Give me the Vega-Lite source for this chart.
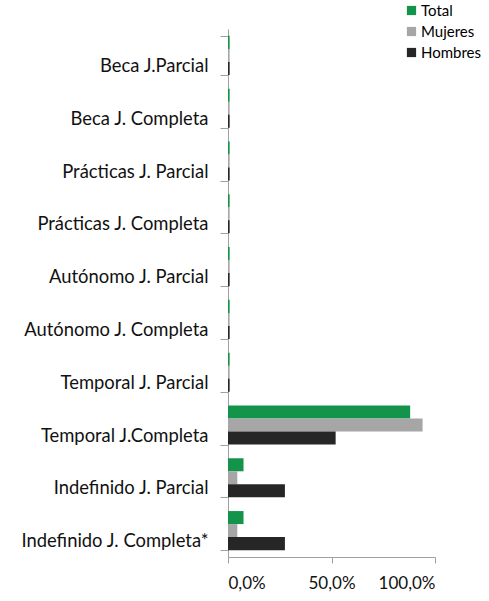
{
  "$schema": "https://vega.github.io/schema/vega-lite/v6.json",
  "width": 207,
  "height": 528,
  "autosize": {"type": "none"},
  "padding": {"left": 228, "top": 29, "right": 54, "bottom": 44},
  "background": "white",
  "config": {
    "font": "Lato",
    "view": {"stroke": null},
    "axis": {"grid": false, "domainColor": "#a0a0a0", "tickColor": "#a0a0a0", "labelColor": "#111111", "labelFontSize": 17}
  },
  "data": {
    "values": [
      {"cat": "Beca J.Parcial", "serie": "Total", "v": 0.008},
      {"cat": "Beca J.Parcial", "serie": "Mujeres", "v": 0.008},
      {"cat": "Beca J.Parcial", "serie": "Hombres", "v": 0.008},
      {"cat": "Beca J. Completa", "serie": "Total", "v": 0.008},
      {"cat": "Beca J. Completa", "serie": "Mujeres", "v": 0.008},
      {"cat": "Beca J. Completa", "serie": "Hombres", "v": 0.008},
      {"cat": "Prácticas J. Parcial", "serie": "Total", "v": 0.008},
      {"cat": "Prácticas J. Parcial", "serie": "Mujeres", "v": 0.008},
      {"cat": "Prácticas J. Parcial", "serie": "Hombres", "v": 0.008},
      {"cat": "Prácticas J. Completa", "serie": "Total", "v": 0.008},
      {"cat": "Prácticas J. Completa", "serie": "Mujeres", "v": 0.008},
      {"cat": "Prácticas J. Completa", "serie": "Hombres", "v": 0.008},
      {"cat": "Autónomo J. Parcial", "serie": "Total", "v": 0.008},
      {"cat": "Autónomo J. Parcial", "serie": "Mujeres", "v": 0.008},
      {"cat": "Autónomo J. Parcial", "serie": "Hombres", "v": 0.008},
      {"cat": "Autónomo J. Completa", "serie": "Total", "v": 0.008},
      {"cat": "Autónomo J. Completa", "serie": "Mujeres", "v": 0.008},
      {"cat": "Autónomo J. Completa", "serie": "Hombres", "v": 0.008},
      {"cat": "Temporal J. Parcial", "serie": "Total", "v": 0.008},
      {"cat": "Temporal J. Parcial", "serie": "Mujeres", "v": 0.008},
      {"cat": "Temporal J. Parcial", "serie": "Hombres", "v": 0.008},
      {"cat": "Temporal J.Completa", "serie": "Total", "v": 0.88},
      {"cat": "Temporal J.Completa", "serie": "Mujeres", "v": 0.94},
      {"cat": "Temporal J.Completa", "serie": "Hombres", "v": 0.52},
      {"cat": "Indefinido J. Parcial", "serie": "Total", "v": 0.075},
      {"cat": "Indefinido J. Parcial", "serie": "Mujeres", "v": 0.045},
      {"cat": "Indefinido J. Parcial", "serie": "Hombres", "v": 0.275},
      {"cat": "Indefinido J. Completa*", "serie": "Total", "v": 0.075},
      {"cat": "Indefinido J. Completa*", "serie": "Mujeres", "v": 0.045},
      {"cat": "Indefinido J. Completa*", "serie": "Hombres", "v": 0.275}
    ]
  },
  "mark": {"type": "bar", "stroke": null},
  "encoding": {
    "y": {
      "field": "cat", "type": "nominal", "sort": null,
      "scale": {"paddingInner": 0.26, "paddingOuter": 0.13},
      "axis": {"title": null, "tickSize": 8, "labelPadding": 12, "tickBand": "extent", "labelFontSize": 18.4, "labelLimit": 0, "labelOffset": 10}
    },
    "yOffset": {"field": "serie", "type": "nominal", "sort": ["Total", "Mujeres", "Hombres"]},
    "x": {
      "field": "v", "type": "quantitative",
      "scale": {"domain": [0, 1], "nice": false},
      "axis": {"title": null, "values": [0, 0.5, 1], "tickSize": 6, "labelPadding": 12, "labelExpr": "replace(format(datum.value, '.1%'), '.', ',')", "labelFontSize": 17}
    },
    "color": {
      "field": "serie", "type": "nominal",
      "scale": {"domain": ["Total", "Mujeres", "Hombres"], "range": ["#14934A", "#A6A6A6", "#262626"]},
      "legend": {"title": null, "orient": "none", "legendX": 176, "legendY": -26, "symbolType": "square", "symbolSize": 85, "labelFontSize": 15, "labelOffset": 2, "rowPadding": 5, "symbolStrokeWidth": 0, "labelLimit": 0}
    }
  }
}
